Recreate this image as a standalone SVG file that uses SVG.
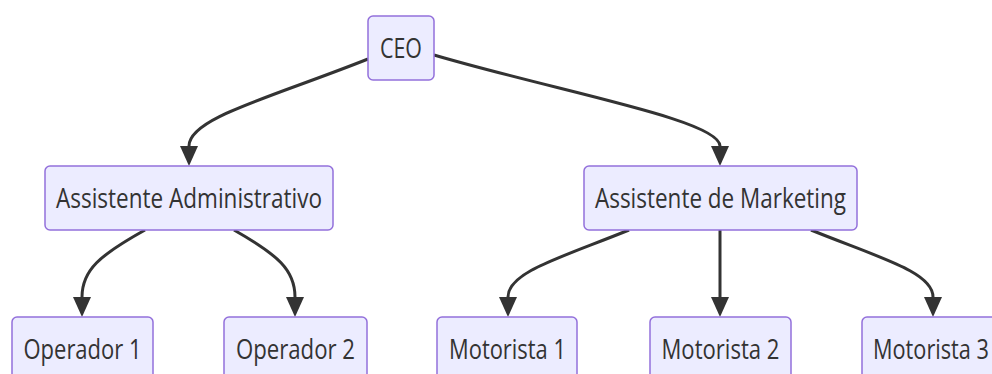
<svg xmlns="http://www.w3.org/2000/svg" width="992" height="374" viewBox="0 0 992 374">
  <defs>
    <marker id="arrow" markerUnits="userSpaceOnUse" viewBox="0 0 20 18" markerWidth="20" markerHeight="18" refX="0" refY="9" orient="auto">
      <path d="M0,0 L20,9 L0,18 z" fill="#333333"/>
    </marker>
    <style>
      .node rect { fill: #ECECFF; stroke: #9370DB; stroke-width: 1.5; }
      .node text { font-family: "Open Sans", "Noto Sans", sans-serif; font-size: 28px; fill: #333333; text-anchor: middle; }
      .edges path { fill: none; stroke: #333333; stroke-width: 3; marker-end: url(#arrow); }
    </style>
  </defs>
  <rect width="992" height="374" fill="#ffffff"/>

  <g class="edges">
    <path d="M368,59 C270,98 189,118 189,146"/>
    <path d="M434,55 C560,92 720,120 720,146"/>
    <path d="M145,230 C100,255 82,270 82,297"/>
    <path d="M234,230 C278,255 295,270 295,297"/>
    <path d="M629,230 C560,258 508,272 508,297"/>
    <path d="M720,230 L720,297"/>
    <path d="M811,230 C880,258 933,272 933,297"/>
  </g>

  <g id="ceo" class="node">
    <rect x="368" y="16" width="66" height="64" rx="5"/>
    <text x="401" y="58" textLength="42" lengthAdjust="spacingAndGlyphs">CEO</text>
  </g>
  <g id="assistente-administrativo" class="node">
    <rect x="45" y="166" width="288" height="64" rx="5"/>
    <text x="189" y="208" textLength="266" lengthAdjust="spacingAndGlyphs">Assistente Administrativo</text>
  </g>
  <g id="assistente-marketing" class="node">
    <rect x="584" y="166" width="273" height="64" rx="5"/>
    <text x="720.5" y="208" textLength="251" lengthAdjust="spacingAndGlyphs">Assistente de Marketing</text>
  </g>
  <g id="operador-1" class="node">
    <rect x="12" y="317" width="141" height="64" rx="5"/>
    <text x="82.5" y="359" textLength="118" lengthAdjust="spacingAndGlyphs">Operador 1</text>
  </g>
  <g id="operador-2" class="node">
    <rect x="224" y="317" width="143" height="64" rx="5"/>
    <text x="295.5" y="359" textLength="119" lengthAdjust="spacingAndGlyphs">Operador 2</text>
  </g>
  <g id="motorista-1" class="node">
    <rect x="437" y="317" width="140" height="64" rx="5"/>
    <text x="507.5" y="359" textLength="117" lengthAdjust="spacingAndGlyphs">Motorista 1</text>
  </g>
  <g id="motorista-2" class="node">
    <rect x="650" y="317" width="141" height="64" rx="5"/>
    <text x="720.5" y="359" textLength="118" lengthAdjust="spacingAndGlyphs">Motorista 2</text>
  </g>
  <g id="motorista-3" class="node">
    <rect x="862" y="317" width="141" height="64" rx="5"/>
    <text x="931" y="359" textLength="116" lengthAdjust="spacingAndGlyphs">Motorista 3</text>
  </g>
</svg>
